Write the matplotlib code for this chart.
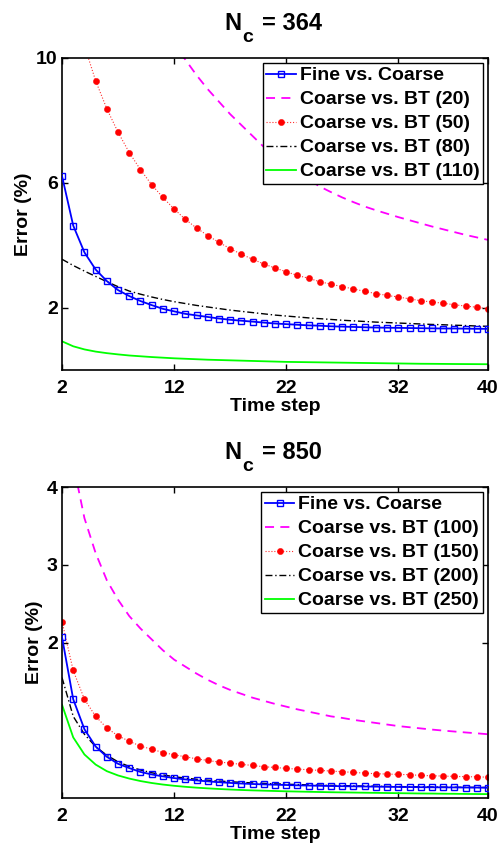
import numpy as np
import matplotlib
matplotlib.use("Agg")
import matplotlib.pyplot as plt

plt.rcParams['font.family'] = ['Liberation Sans', 'DejaVu Sans']
plt.rcParams['font.weight'] = 'bold'

steps = list(range(2, 41))

# ---- N_c = 364 ----
top_fine = [6.22, 4.63, 3.77, 3.22, 2.85, 2.56, 2.37, 2.21, 2.08, 1.96, 1.88, 1.80, 1.75,
            1.70, 1.65, 1.61, 1.58, 1.55, 1.52, 1.49, 1.47, 1.45, 1.43, 1.42, 1.40, 1.39,
            1.38, 1.37, 1.36, 1.355, 1.35, 1.345, 1.34, 1.335, 1.33, 1.33, 1.325, 1.32, 1.32]
top_bt20 = [40, 30, 24.5, 20.5, 17.7, 15.6, 14.0, 12.8, 11.8, 11.0, 10.4, 9.95, 9.45,
            9.0, 8.6, 8.2, 7.85, 7.5, 7.15, 6.85, 6.58, 6.33, 6.1, 5.88, 5.7, 5.53,
            5.38, 5.24, 5.12, 5.01, 4.9, 4.8, 4.7, 4.6, 4.51, 4.42, 4.33, 4.25, 4.17]
top_bt50 = [13.6, 11.8, 10.4, 9.27, 8.37, 7.62, 6.97, 6.42, 5.94, 5.53, 5.16, 4.83, 4.55,
            4.31, 4.09, 3.89, 3.71, 3.55, 3.40, 3.27, 3.15, 3.03, 2.94, 2.83, 2.75, 2.67,
            2.60, 2.52, 2.45, 2.39, 2.34, 2.28, 2.22, 2.18, 2.14, 2.09, 2.05, 2.01, 1.97]
top_bt80 = [3.55, 3.35, 3.17, 3.0, 2.83, 2.67, 2.53, 2.43, 2.34, 2.26, 2.19, 2.13, 2.07,
            2.02, 1.97, 1.92, 1.88, 1.84, 1.80, 1.76, 1.73, 1.70, 1.67, 1.645, 1.62, 1.595,
            1.575, 1.555, 1.535, 1.52, 1.505, 1.49, 1.475, 1.46, 1.45, 1.435, 1.425, 1.41, 1.40]
top_bt110 = [0.92, 0.76, 0.66, 0.59, 0.54, 0.50, 0.465, 0.44, 0.415, 0.395, 0.375, 0.36, 0.345,
             0.33, 0.32, 0.31, 0.30, 0.29, 0.28, 0.27, 0.26, 0.255, 0.25, 0.245, 0.24, 0.235,
             0.23, 0.225, 0.22, 0.215, 0.21, 0.205, 0.20, 0.198, 0.195, 0.192, 0.19, 0.188, 0.185]

# ---- N_c = 850 ----
bot_fine = [2.07, 1.27, 0.885, 0.662, 0.53, 0.44, 0.385, 0.335, 0.303, 0.278, 0.256, 0.239, 0.226,
            0.214, 0.203, 0.194, 0.186, 0.18, 0.175, 0.171, 0.167, 0.163, 0.16, 0.157, 0.154, 0.152,
            0.15, 0.148, 0.146, 0.144, 0.142, 0.141, 0.139, 0.138, 0.137, 0.136, 0.135, 0.134, 0.133]
bot_bt100 = [5.6, 4.3, 3.6, 3.15, 2.8, 2.55, 2.34, 2.18, 2.04, 1.9, 1.78, 1.69, 1.6,
             1.52, 1.45, 1.39, 1.34, 1.29, 1.25, 1.21, 1.175, 1.14, 1.11, 1.08, 1.05, 1.03,
             1.005, 0.985, 0.965, 0.945, 0.925, 0.91, 0.895, 0.88, 0.867, 0.855, 0.843, 0.832, 0.82]
bot_bt150 = [2.27, 1.64, 1.27, 1.05, 0.90, 0.80, 0.73, 0.667, 0.628, 0.585, 0.556, 0.53, 0.504,
             0.483, 0.462, 0.449, 0.432, 0.419, 0.402, 0.393, 0.38, 0.372, 0.363, 0.355, 0.346, 0.338,
             0.329, 0.32, 0.312, 0.308, 0.303, 0.30, 0.29, 0.286, 0.282, 0.278, 0.274, 0.272, 0.268]
bot_bt200 = [1.55, 1.05, 0.82, 0.66, 0.55, 0.465, 0.405, 0.36, 0.325, 0.297, 0.274, 0.256, 0.241,
             0.229, 0.218, 0.209, 0.201, 0.194, 0.188, 0.182, 0.177, 0.173, 0.169, 0.165, 0.162, 0.159,
             0.156, 0.153, 0.151, 0.149, 0.147, 0.145, 0.143, 0.141, 0.14, 0.138, 0.137, 0.136, 0.135]
bot_bt250 = [1.20, 0.78, 0.56, 0.43, 0.345, 0.29, 0.25, 0.218, 0.193, 0.173, 0.157, 0.144, 0.133,
             0.124, 0.116, 0.109, 0.103, 0.098, 0.094, 0.09, 0.086, 0.083, 0.08, 0.077, 0.074, 0.072,
             0.07, 0.068, 0.066, 0.064, 0.062, 0.06, 0.058, 0.057, 0.055, 0.054, 0.052, 0.051, 0.05]

panels = [
    dict(title='364', fine=top_fine, bts=[top_bt20, top_bt50, top_bt80, top_bt110],
         labels=['20', '50', '80', '110'], ylim=(0, 10), yticks=[2, 6, 10]),
    dict(title='850', fine=bot_fine, bts=[bot_bt100, bot_bt150, bot_bt200, bot_bt250],
         labels=['100', '150', '200', '250'], ylim=(0, 4), yticks=[2, 3, 4]),
]
xticks = [2, 12, 22, 32, 40]

fig = plt.figure(figsize=(4.99, 8.5), dpi=100)
W, H = 499.0, 850.0
rects = [(62, 58, 488, 370), (62, 487, 488, 798)]
FS = 14

for p, (l, t, r, b) in zip(panels, rects):
    ax = fig.add_axes([l / W, 1 - b / H, (r - l) / W, (b - t) / H])
    ax.plot(steps, p['fine'], color='#0000ff', lw=1.3, marker='s', ms=4.5,
            mfc='none', mec='#0000ff', mew=1.0, label='Fine vs. Coarse', zorder=5)
    ax.plot(steps, p['bts'][0], color='#ff00ff', lw=1.3, ls=(0, (5, 3.5)),
            label='Coarse vs. BT (%s)' % p['labels'][0])
    ax.plot(steps, p['bts'][1], color='#ff3030', lw=0.8, ls=':', marker='o', ms=4.5,
            mfc='#ff0000', mec='#ff0000', mew=0.3,
            label='Coarse vs. BT (%s)' % p['labels'][1])
    ax.plot(steps, p['bts'][2], color='black', lw=1.0, ls=(0, (5, 2, 1, 2)),
            label='Coarse vs. BT (%s)' % p['labels'][2])
    ax.plot(steps, p['bts'][3], color='#00ff00', lw=1.3,
            label='Coarse vs. BT (%s)' % p['labels'][3])

    ax.set_xlim(2, 40)
    ax.set_ylim(*p['ylim'])
    ax.set_xticks(xticks)
    ax.set_yticks(p['yticks'])
    ax.tick_params(direction='in', top=True, right=True, length=4, width=1,
                   labelsize=FS)
    ax.tick_params(axis='x', pad=7)
    ax.tick_params(axis='y', pad=3)
    for lab in ax.get_xticklabels() + ax.get_yticklabels():
        lab.set_fontweight('bold')
    for s in ax.spines.values():
        s.set_linewidth(1.2)
    ax.set_xlabel('Time step', fontsize=FS, fontweight='bold', labelpad=1)
    ax.set_ylabel('Error (%)', fontsize=FS, fontweight='bold', labelpad=3)

    leg = ax.legend(loc='upper right', numpoints=1, handlelength=1.5,
                    handletextpad=0.2, labelspacing=0.33, borderpad=0.2,
                    borderaxespad=0.25, fancybox=False, framealpha=1,
                    edgecolor='black', prop={'weight': 'bold', 'size': FS})
    leg.get_frame().set_linewidth(1.0)

    # title: N with subscript c, then "= value"
    base = t - 28
    fig.text(241 / W, 1 - base / H, 'N', ha='right', va='baseline',
             fontsize=17, fontweight='bold')
    fig.text(242 / W, 1 - (base + 11.5) / H, 'c', ha='left', va='baseline',
             fontsize=14, fontweight='bold')
    fig.text(262 / W, 1 - base / H, '= ' + p['title'], ha='left', va='baseline',
             fontsize=17, fontweight='bold')

fig.savefig('out.png', dpi=100)
